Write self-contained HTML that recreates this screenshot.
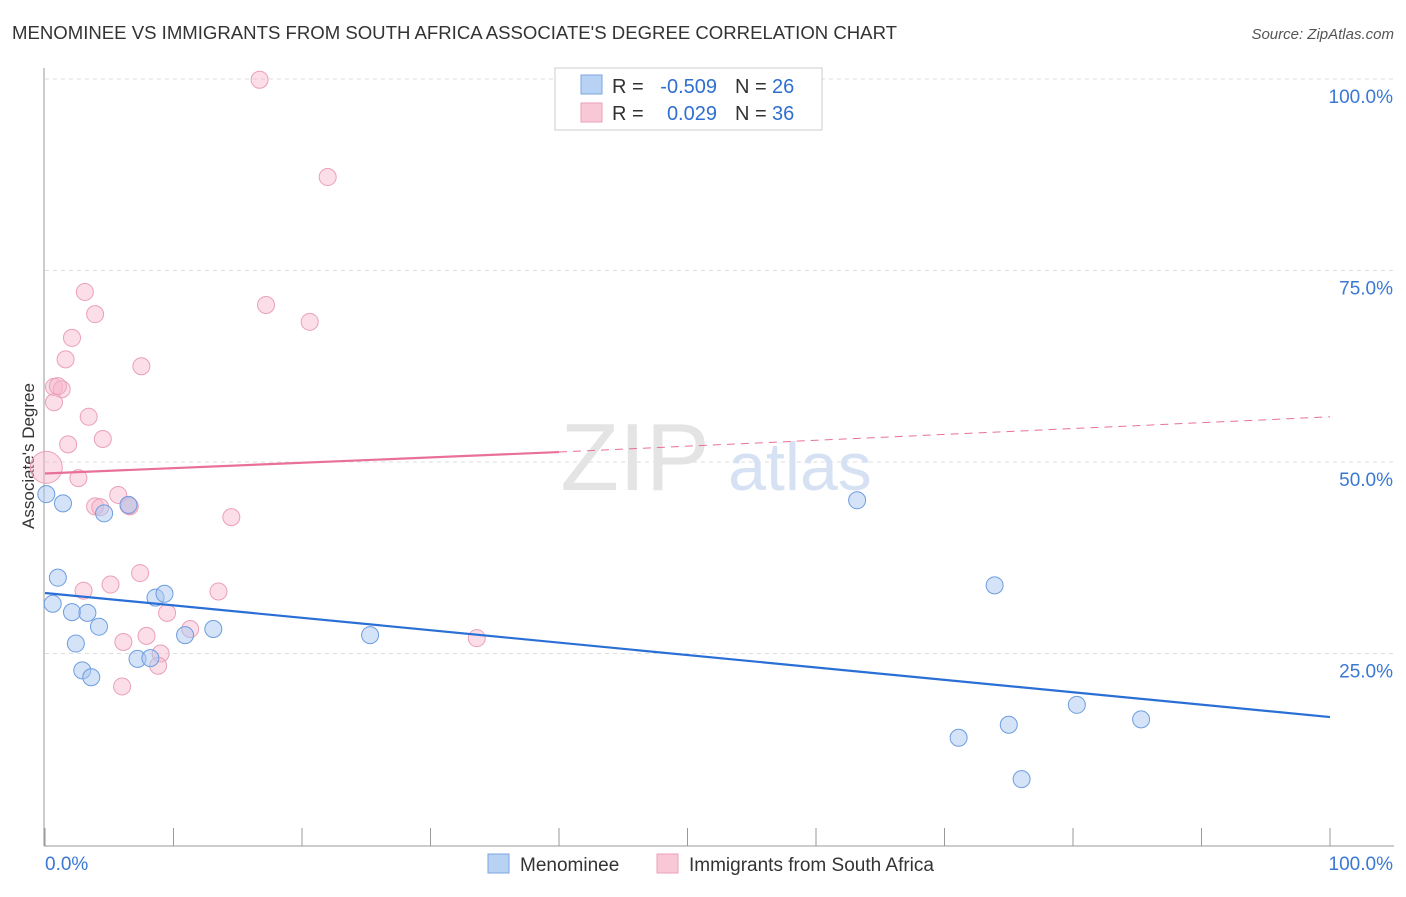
<!DOCTYPE html>
<html><head><meta charset="utf-8">
<style>
body{margin:0;background:#fff;font-family:"Liberation Sans",sans-serif;}
svg text{font-family:"Liberation Sans",sans-serif;}
</style></head>
<body>
<svg id="chart" width="1406" height="892" viewBox="0 0 1406 892">
<text x="12" y="39" font-size="18" fill="#333" textLength="885" lengthAdjust="spacingAndGlyphs">MENOMINEE VS IMMIGRANTS FROM SOUTH AFRICA ASSOCIATE'S DEGREE CORRELATION CHART</text>
<text x="1394" y="39" font-size="15" fill="#555" font-style="italic" text-anchor="end">Source: ZipAtlas.com</text>
<text x="0" y="0" transform="translate(34,456) rotate(-90)" font-size="17" fill="#333" text-anchor="middle">Associate's Degree</text>
<g id="grid"></g>
<text x="635" y="490" font-size="96" font-family="Liberation Serif" fill="#e4e4e4" text-anchor="middle">ZIP</text>
<text x="800" y="490" font-size="68" fill="#d6e2f4" text-anchor="middle">atlas</text>
<g id="marks"></g>
<g>
<rect x="555" y="68" width="267" height="62" fill="#fff" stroke="#ccc"/>
<rect x="581" y="75" width="21" height="19" fill="#b8d2f4" stroke="#7aa6e0"/>
<rect x="581" y="103" width="21" height="19" fill="#f9c8d6" stroke="#eba0b7"/>
<text x="612" y="93" font-size="20" fill="#333">R =</text>
<text x="717" y="93" font-size="20" fill="#2f6fd0" text-anchor="end">-0.509</text>
<text x="735" y="93" font-size="20" fill="#333">N =</text>
<text x="772" y="93" font-size="20" fill="#2f6fd0">26</text>
<text x="612" y="120" font-size="20" fill="#333">R =</text>
<text x="717" y="120" font-size="20" fill="#2f6fd0" text-anchor="end">0.029</text>
<text x="735" y="120" font-size="20" fill="#333">N =</text>
<text x="772" y="120" font-size="20" fill="#2f6fd0">36</text>
</g>
<g>
<rect x="488" y="854" width="21" height="19" fill="#b8d2f4" stroke="#7aa6e0"/>
<text x="520" y="871" font-size="19" fill="#333">Menominee</text>
<rect x="657" y="854" width="21" height="19" fill="#f9c8d6" stroke="#eba0b7"/>
<text x="689" y="871" font-size="19" fill="#333">Immigrants from South Africa</text>
</g>
</svg>
<script>
const xTickVals=[0,10,20,30,40,50,60,70,80,90,100];
const yTickVals=[25,50,75,100];
const yTickLabels=["25.0%","50.0%","75.0%","100.0%"];
const blueX=[0.1,1.4,4.6,6.5,1.0,0.6,2.1,3.3,4.2,2.4,2.9,3.6,7.2,8.2,8.6,9.3,10.9,13.1,25.3,63.2,73.9,80.3,85.3,71.1,75.0,76.0];
const blueY=[45.8,44.6,43.3,44.4,34.9,31.5,30.4,30.3,28.5,26.3,22.8,21.9,24.3,24.4,32.3,32.8,27.4,28.2,27.4,45.0,33.9,18.3,16.4,14.0,15.7,8.6];
const pinkX=[16.7,22.0,3.1,17.2,3.9,20.6,2.1,1.6,7.5,0.7,1.3,0.7,3.4,1.8,4.5,0.1,2.6,5.7,3.9,4.3,6.6,14.5,7.4,5.1,3.0,13.5,9.5,11.3,7.9,6.1,9.0,8.8,6.0,33.6,1.0,6.5];
const pinkY=[99.9,87.2,72.2,70.5,69.3,68.3,66.2,63.4,62.5,59.8,59.5,57.8,55.9,52.3,53.0,49.3,47.9,45.7,44.2,44.1,44.2,42.8,35.5,34.0,33.2,33.1,30.3,28.2,27.3,26.5,25.0,23.4,20.7,27.0,59.9,44.3];
const blueTrend=[0,32.9,100,16.7];
const pinkTrend=[0,48.5,40,51.3,100,55.9];
const X0=45,X1=1330,Y0=845,Y100=79;
const sx=v=>X0+(X1-X0)*v/100, sy=v=>Y0-(Y0-Y100)*v/100;
const NS="http://www.w3.org/2000/svg";
function mk(p,t,a){const e=document.createElementNS(NS,t);for(const k in a)e.setAttribute(k,a[k]);p.appendChild(e);return e;}
const grid=document.getElementById('grid'),marks=document.getElementById('marks');
yTickVals.forEach((v,i)=>{
 const l=mk(grid,'line',{x1:X0,x2:1394,y1:sy(v),y2:sy(v),stroke:'#ddd','stroke-dasharray':'4,4'});
 
 
 const t=mk(grid,'text',{x:1393,y:sy(v)+24,'font-size':19,fill:'#3a78d4','text-anchor':'end'});t.textContent=yTickLabels[i];
 
 
});
const ax=mk(grid,'line',{x1:44,x2:44,y1:68,y2:846,stroke:'#999'});


const bx=mk(grid,'line',{x1:44,x2:1394,y1:846,y2:846,stroke:'#999'});


xTickVals.forEach(v=>{
 const t=mk(grid,'line',{x1:sx(v),x2:sx(v),y1:828,y2:846,stroke:'#999'});
 
 
});
const xl0=mk(grid,'text',{x:45,y:870,'font-size':19,fill:'#3a78d4'});xl0.textContent='0.0%';


const xl1=mk(grid,'text',{x:1393,y:870,'font-size':19,fill:'#3a78d4','text-anchor':'end'});xl1.textContent='100.0%';


pinkX.forEach((x,i)=>{
 const r=(i===15)?16:8.5;
 const c=mk(marks,'circle',{cx:sx(x),cy:sy(pinkY[i]),r:r,fill:'rgba(246,182,204,0.45)',stroke:'#eba0b7','stroke-width':1});
 
 
});
blueX.forEach((x,i)=>{
 const c=mk(marks,'circle',{cx:sx(x),cy:sy(blueY[i]),r:8.5,fill:'rgba(170,200,240,0.5)',stroke:'#6d9de0','stroke-width':1});
 
 
});
const bl=mk(marks,'line',{x1:sx(blueTrend[0]),y1:sy(blueTrend[1]),x2:sx(blueTrend[2]),y2:sy(blueTrend[3]),stroke:'#2a6fd6','stroke-width':2.2});


const pl=mk(marks,'line',{x1:sx(pinkTrend[0]),y1:sy(pinkTrend[1]),x2:sx(pinkTrend[2]),y2:sy(pinkTrend[3]),stroke:'#e8709a','stroke-width':2.2});


const pd=mk(marks,'line',{x1:sx(pinkTrend[2]),y1:sy(pinkTrend[3]),x2:sx(pinkTrend[4]),y2:sy(pinkTrend[5]),stroke:'#e8709a','stroke-width':1,'stroke-dasharray':'8,6'});


</script>
</body></html>
